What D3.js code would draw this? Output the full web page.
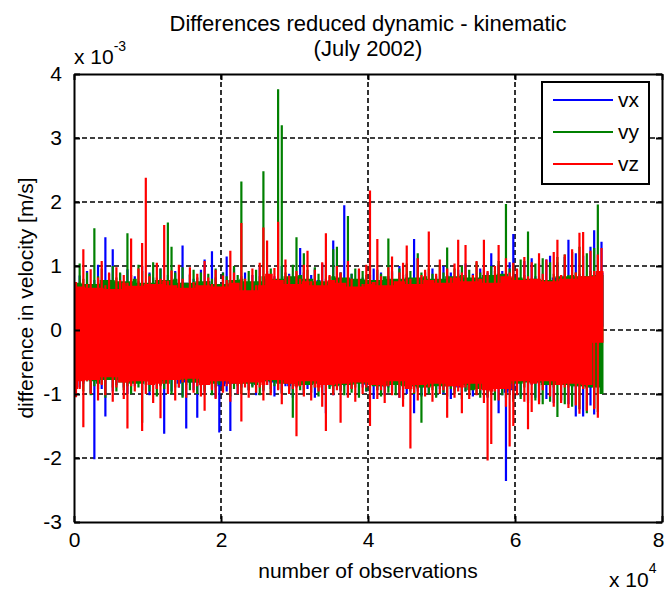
<!DOCTYPE html>
<html>
<head>
<meta charset="utf-8">
<script src="https://cdn.jsdelivr.net/npm/d3@7"></script>
<style>
body{margin:0;background:#fff}
text{font-family:"Liberation Sans",Arial,Helvetica,sans-serif;fill:#000}
</style>
</head>
<body>
<div id="graph"></div>
<script>
"use strict"
// observations are grouped in bins of 500, for each bin the max and min value (x 1e-3 m/s)
var binSize=500
var seriesNames=['vx','vy','vz']
var seriesColors=['#0000ff','#008000','#ff0000']

var vxHi=[0.6,0.85,0.7,0.92,0.66,0.78,1.02,0.74,1.45,0.8,1.26,0.7,
  0.88,0.72,0.95,0.68,0.84,0.76,1.0,0.7,0.9,0.82,0.74,0.96,
  0.72,0.86,0.7,0.92,0.78,1.32,0.74,0.88,0.8,0.68,0.94,1.1,
  0.76,1.23,0.82,0.7,0.9,1.15,0.78,0.96,0.72,0.84,0.9,0.7,
  0.86,0.74,0.98,0.8,0.92,0.7,0.84,0.78,1.0,0.72,0.88,0.82,
  0.76,1.28,0.9,0.74,0.86,0.96,0.78,1.04,0.8,0.72,1.4,0.84,
  0.9,1.95,0.76,0.88,0.7,0.94,0.82,0.74,0.86,0.96,0.78,0.9,
  0.72,0.84,0.92,0.76,1.0,0.8,0.88,0.74,1.42,1.12,0.82,0.9,
  0.78,0.96,0.84,0.74,1.0,0.86,0.9,0.78,0.94,0.82,1.04,0.76,
  0.88,0.8,0.96,0.84,0.9,1.2,0.86,1.02,0.92,0.8,1.06,1.5,
  0.94,0.8,1.08,0.76,1.12,0.84,1.04,0.78,1.1,1.16,0.82,1.06,
  0.86,1.14,1.41,0.8,1.2,0.88,1.16,0.84,1.3,1.56,0.9,1.38]
var vxLo=[-0.7,-0.9,-0.84,-0.76,-0.98,-2.02,-0.8,-0.92,-1.35,-0.78,-0.96,-0.86,
  -0.74,-0.9,-1.0,-0.82,-0.88,-0.76,-0.94,-0.84,-1.02,-0.8,-0.92,-0.86,
  -1.62,-0.78,-0.96,-0.84,-0.9,-1.04,-1.54,-0.82,-0.94,-1.37,-0.86,-0.98,
  -0.8,-0.92,-1.06,-1.6,-0.88,-0.96,-1.58,-0.84,-1.0,-0.9,-0.78,-0.94,
  -0.88,-1.02,-0.8,-0.96,-0.86,-0.92,-1.04,-0.82,-0.98,-0.88,-0.94,-1.06,
  -0.9,-0.84,-1.0,-0.92,-0.86,-1.06,-0.8,-0.98,-1.3,-0.9,-1.02,-0.86,
  -0.96,-0.88,-1.04,-0.92,-0.82,-1.0,-0.9,-0.96,-0.86,-1.08,-0.94,-0.88,
  -1.02,-0.9,-0.96,-0.84,-1.06,-0.92,-1.0,-0.88,-1.3,-0.96,-1.04,-0.9,
  -0.98,-0.86,-1.04,-0.92,-1.0,-0.88,-1.08,-0.94,-0.9,-1.02,-0.96,-0.86,
  -1.04,-0.92,-1.0,-0.9,-1.06,-0.96,-0.88,-1.3,-1.02,-2.36,-0.98,-1.08,
  -0.94,-1.04,-0.8,-1.1,-0.86,-1.06,-1.12,-0.82,-1.08,-0.88,-1.14,-0.84,
  -1.1,-0.86,-1.16,-0.9,-1.35,-0.88,-1.35,-0.92,-1.18,-1.32,-0.9,0.05]

var vyHi=[0.74,1.04,0.8,0.9,0.72,1.59,0.84,0.96,0.78,0.88,1.0,0.82,
  0.9,0.76,1.51,0.86,0.8,1.02,0.92,0.74,0.88,1.06,0.82,0.96,
  0.78,1.68,1.3,0.9,0.8,0.98,0.74,0.86,0.94,0.82,0.9,0.76,
  0.88,0.8,0.96,0.72,0.9,0.84,0.78,1.0,0.86,2.32,0.8,0.92,
  0.76,0.94,0.84,2.48,0.88,0.96,0.8,3.76,3.2,0.9,0.84,1.02,
  1.45,0.86,1.2,0.94,0.8,0.98,0.88,0.76,1.0,0.84,1.26,1.3,
  0.9,0.82,1.78,0.88,0.96,0.8,0.92,0.86,1.02,0.78,0.94,0.88,
  0.84,1.43,0.9,0.8,0.96,0.86,1.04,0.92,0.82,1.2,0.9,0.84,
  0.96,0.88,0.8,1.02,0.9,1.29,0.84,0.96,0.88,1.0,0.86,0.94,
  0.82,1.06,0.9,0.96,0.86,1.0,0.92,1.08,0.88,1.97,0.96,1.04,
  0.82,1.1,0.86,1.54,0.8,1.04,0.84,1.12,0.78,1.06,0.88,1.14,
  0.84,1.18,0.86,1.22,0.9,1.3,0.84,1.2,0.92,1.28,1.96,0.86]
var vyLo=[-0.86,-0.74,-0.96,-0.8,-1.02,-0.88,-0.92,-0.84,-1.06,-0.78,-0.9,-0.96,
  -0.82,-0.94,-0.88,-1.0,-0.84,-0.9,-1.45,-0.86,-0.96,-0.8,-1.04,-0.88,
  -0.92,-0.84,-1.0,-0.9,-0.78,-1.06,-0.86,-0.94,-0.82,-1.0,-0.88,-0.96,
  -0.84,-1.02,-0.9,-0.86,-0.96,-0.8,-1.04,-0.92,-0.88,-1.0,-0.84,-0.94,
  -0.9,-0.86,-1.02,-0.94,-0.8,-0.98,-0.88,-0.92,-1.0,-0.84,-0.96,-1.37,
  -0.88,-0.94,-1.0,-0.86,-0.98,-0.9,-1.04,-0.84,-0.96,-0.92,-1.0,-0.88,
  -0.94,-1.02,-0.86,-0.98,-0.9,-1.06,-0.84,-0.96,-1.0,-0.88,-0.94,-1.04,
  -0.9,-0.98,-0.86,-1.02,-0.94,-1.08,-0.88,-0.96,-1.0,-0.92,-1.45,-0.9,
  -1.0,-0.94,-1.06,-0.88,-0.98,-1.04,-0.92,-1.0,-0.86,-1.08,-0.96,-1.02,
  -0.94,-1.0,-1.06,-0.92,-1.04,-0.98,-1.1,-0.9,-1.02,-1.06,-0.96,-1.12,
  -0.84,-1.08,-0.9,-1.14,-0.82,-1.1,-0.88,-1.16,-0.86,-1.12,-0.9,-1.36,
  -0.86,-1.16,-0.9,-1.2,-0.88,-1.24,-0.92,-1.3,-0.9,-1.22,-1.28,-1.0]

var vzHi=[0.75,0.68,1.26,0.72,0.95,0.66,0.82,1.08,0.7,0.9,0.64,0.98,
  0.78,0.86,0.74,1.43,0.69,0.96,1.36,2.38,0.84,0.72,1.05,0.8,
  1.64,0.77,0.93,0.7,1.02,0.8,0.66,0.98,0.75,0.88,0.7,1.08,
  0.82,0.72,0.94,0.68,0.85,0.78,1.24,0.9,0.74,1.67,0.8,0.62,
  0.96,0.7,1.05,1.6,1.4,0.88,0.97,1.69,0.78,1.1,0.85,0.72,
  0.92,0.8,1.02,1.24,0.76,0.94,0.7,1.06,1.51,0.86,0.78,1.0,
  0.9,0.74,1.08,0.8,0.68,0.96,0.72,1.02,2.18,0.75,1.42,0.84,
  0.7,0.98,1.15,0.76,0.9,1.05,1.32,0.8,0.72,1.12,0.86,0.94,
  1.54,0.78,0.88,1.1,0.74,0.96,0.82,1.04,1.41,0.9,1.33,0.76,
  0.86,1.08,0.8,1.41,0.92,0.74,1.0,1.33,0.84,1.12,0.9,1.05,
  0.96,0.78,1.14,0.84,1.06,0.8,1.2,0.88,1.1,0.76,1.22,1.41,
  0.86,1.18,0.8,1.26,0.9,1.52,1.53,0.84,1.24,0.92,1.18,1.28]
var vzLo=[-1.05,-0.92,-1.52,-0.8,-1.0,-0.78,-1.1,-0.86,-1.02,-0.74,-1.12,-0.9,
  -0.82,-1.08,-1.54,-0.88,-0.96,-0.8,-1.58,-1.0,-0.86,-1.14,-0.92,-1.38,
  -0.84,-1.0,-0.78,-1.1,-0.9,-0.82,-1.06,-0.76,-0.98,-0.88,-1.04,-1.26,
  -0.86,-0.94,-1.08,-0.8,-0.98,-0.88,-1.12,-0.84,-1.0,-1.43,-0.9,-1.06,
  -0.82,-0.98,-0.9,-1.1,-0.86,-1.02,-0.78,-0.94,-1.16,-0.84,-1.0,-0.92,
  -1.66,-0.88,-1.04,-0.8,-1.1,-0.9,-0.96,-1.2,-1.58,-0.86,-1.02,-0.94,
  -1.45,-0.84,-1.06,-0.92,-1.12,-0.82,-1.0,-0.9,-1.5,-0.86,-1.08,-0.94,
  -1.14,-0.88,-1.02,-0.8,-1.06,-1.2,-0.92,-1.85,-0.98,-1.1,-0.86,-1.04,
  -0.9,-1.12,-0.84,-1.0,-0.94,-1.37,-0.88,-1.06,-0.96,-1.3,-0.9,-1.08,
  -0.84,-1.02,-0.94,-1.14,-2.04,-1.78,-0.96,-1.1,-0.92,-1.2,-1.82,-1.5,
  -1.02,-0.8,-1.12,-1.55,-1.28,-0.84,-1.16,-0.94,-0.8,-1.04,-1.2,-0.86,
  -1.14,-0.9,-1.22,-0.84,-1.18,-1.31,-0.92,-1.26,-0.86,-1.24,-1.37,-0.2]

var xTicks=[0,20000,40000,60000,80000]
var yTicks=[-3,-2,-1,0,1,2,3,4]

var W=666,H=591
var pLeft=74,pRight=662,pTop=74,pBottom=522

var svg=d3.select('#graph').append('svg').attr('width',W).attr('height',H)
var x=d3.scaleLinear().domain([0,80000]).range([pLeft,pRight])
var y=d3.scaleLinear().domain([-3,4]).range([pBottom,pTop])

// grid
var grid=svg.append('g').attr('stroke','#000').attr('stroke-width',1.6).attr('stroke-dasharray','5,3')
grid.selectAll('.gx').data(xTicks.slice(1,-1)).enter().append('line')
  .attr('x1',d=>x(d)).attr('x2',d=>x(d)).attr('y1',pTop).attr('y2',pBottom)
grid.selectAll('.gy').data(yTicks.slice(1,-1)).enter().append('line')
  .attr('x1',pLeft).attr('x2',pRight).attr('y1',d=>y(d)).attr('y2',d=>y(d))

// series: the dense line fills a solid band where neighbouring bins overlap,
// and each bin's own min..max column sticks out of it as a thin spike
function bandPath(hi,lo){
  var p=d3.path(),n=hi.length
  for(var i=0;i<n;i++){
    var a=Math.max(0,i-2),b=Math.min(n,i+3)
    var cHi=d3.min(hi.slice(a,b)),cLo=d3.max(lo.slice(a,b))
    var x0=x(i*binSize),x1=x((i+1)*binSize)+0.3
    if(cHi>cLo) p.rect(x0,y(cHi),x1-x0,y(cLo)-y(cHi))
    var xm=(x0+x1)/2
    p.rect(xm-1.1,y(Math.max(hi[i],lo[i])),2.2,Math.abs(y(lo[i])-y(hi[i])))
  }
  return p.toString()
}
var series=[[vxHi,vxLo],[vyHi,vyLo],[vzHi,vzLo]]
series.forEach(function(s,k){
  svg.append('path').attr('d',bandPath(s[0],s[1])).attr('fill',seriesColors[k])
})

// axes with inward ticks
var fs=21
var ax=svg.append('g')
ax.append('g').attr('transform','translate(0,'+pBottom+')')
  .call(d3.axisBottom(x).tickValues(xTicks).tickSizeInner(-6).tickSizeOuter(0).tickPadding(10).tickFormat(d=>String(d/1e4)))
ax.append('g').attr('transform','translate(0,'+pTop+')')
  .call(d3.axisTop(x).tickValues(xTicks).tickSizeInner(-6).tickSizeOuter(0).tickFormat(''))
ax.append('g').attr('transform','translate('+pLeft+',0)')
  .call(d3.axisLeft(y).tickValues(yTicks).tickSizeInner(-6).tickSizeOuter(0).tickPadding(12).tickFormat(d=>String(d)))
ax.append('g').attr('transform','translate('+pRight+',0)')
  .call(d3.axisRight(y).tickValues(yTicks).tickSizeInner(-6).tickSizeOuter(0).tickFormat(''))
ax.selectAll('.domain').attr('stroke','#000').attr('stroke-width',2)
ax.selectAll('.tick line').attr('stroke','#000').attr('stroke-width',2)
ax.selectAll('.tick text').attr('font-size',fs).attr('font-family','Liberation Sans, Arial, sans-serif').attr('fill','#000')
// last x label sits at the window edge; keep it inside
ax.selectAll('.tick text').filter(d=>d===80000).attr('dx',-4)

// title and labels
svg.append('text').attr('x',368).attr('y',31).attr('text-anchor','middle').attr('font-size',22).text('Differences reduced dynamic - kinematic')
svg.append('text').attr('x',368).attr('y',56).attr('text-anchor','middle').attr('font-size',22).text('(July 2002)')
svg.append('text').attr('x',368).attr('y',578).attr('text-anchor','middle').attr('font-size',fs).text('number of observations')
svg.append('text').attr('transform','translate(33,298) rotate(-90)').attr('text-anchor','middle').attr('font-size',fs).text('difference in velocity [m/s]')

// exponent labels
var e1=svg.append('text').attr('x',74).attr('y',64).attr('font-size',fs)
e1.append('tspan').text('x 10')
e1.append('tspan').attr('dy',-13).attr('font-size',14).text('-3')
var e2=svg.append('text').attr('x',609).attr('y',587).attr('font-size',fs)
e2.append('tspan').text('x 10')
e2.append('tspan').attr('dy',-14).attr('font-size',14).text('4')

// legend
var lg=svg.append('g')
lg.append('rect').attr('x',542).attr('y',82).attr('width',107).attr('height',102)
  .attr('fill','#fff').attr('stroke','#000').attr('stroke-width',2)
seriesNames.forEach(function(n,k){
  var ly=100+k*32
  lg.append('line').attr('x1',553).attr('x2',613).attr('y1',ly).attr('y2',ly)
    .attr('stroke',seriesColors[k]).attr('stroke-width',2)
  lg.append('text').attr('x',618).attr('y',ly+7).attr('font-size',fs).text(n)
})
</script>
</body>
</html>
